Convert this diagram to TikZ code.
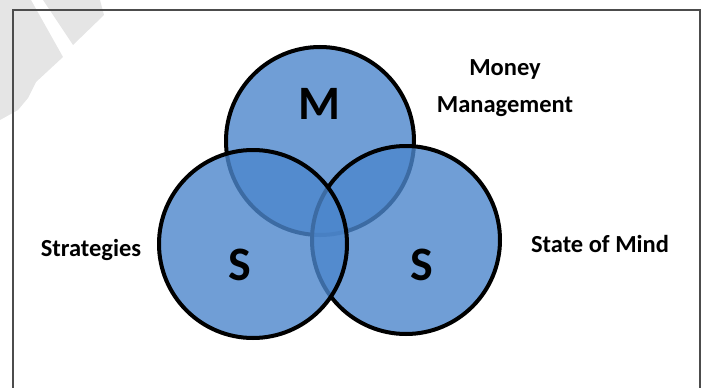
\documentclass[tikz,border=0pt]{standalone}
\usepackage{fontspec}
\setmainfont{Carlito}
\usetikzlibrary{calc}
\definecolor{setblue}{RGB}{76,134,204}

\begin{document}
\begin{tikzpicture}[
    x=1pt, y=-1pt,
    frame line/.style={draw=black!70, line width=1.5pt},
    set/.style={circle, draw=black, line width=4pt, fill=setblue, fill opacity=0.8, minimum size=188pt, inner sep=0pt},
    set letter/.style={font=\bfseries\fontsize{48}{48}\selectfont},
    set label/.style={font=\bfseries\fontsize{24.5}{37}\selectfont, align=center},
    watermark/.style={fill=black!10}
    ]
    \useasboundingbox (0,0) rectangle (705,388);

    % watermark in the corner
    \fill[watermark] (43,0) -- (100,0) -- (104,15) -- (73,45) -- cycle;
    \fill[watermark] (0,0) -- (31,0) -- (63,57) -- (36,82) -- (28,98) -- (18,110) -- (0,120) -- cycle;

    % frame, open at the bottom
    \coordinate (fbl) at (13,388);
    \coordinate (ftl) at (13,10);
    \coordinate (ftr) at (700,10);
    \coordinate (fbr) at (700,388);
    \draw[frame line] (fbl) -- (ftl) -- (ftr) -- (fbr);

    % the three sets
    \node[set] (money) at (320,141) {};
    \node[set] (mind) at (406,240) {};
    \node[set] (strat) at (253,244) {};

    % letters
    \node[set letter] (mLetter) at (319,104) {M};
    \node[set letter] (sLetter) at (240,265) {S};
    \node[set letter] (s2Letter) at (422,265) {S};

    % labels
    \node[set label] (moneyLabel) at (505,88) {Money\\Management};
    \node[set label] (stratLabel) at (91,250) {Strategies};
    \node[set label] (mindLabel) at (600,244) {State of Mind};
\end{tikzpicture}
\end{document}
